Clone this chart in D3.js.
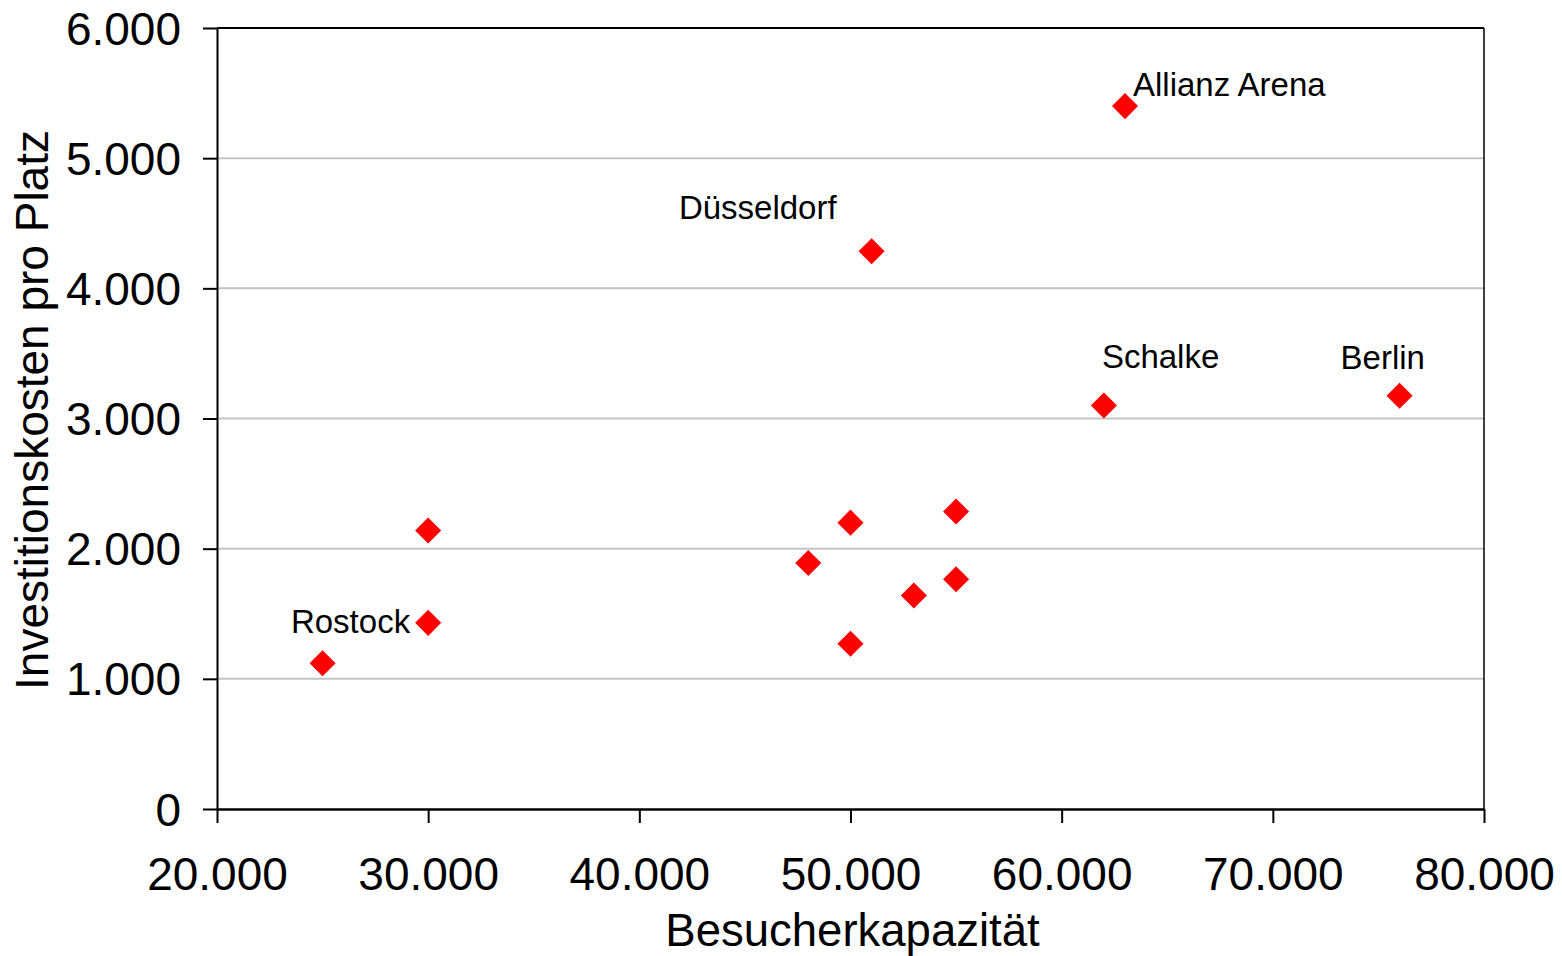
<!DOCTYPE html>
<html>
<head>
<meta charset="utf-8">
<script src="https://cdn.jsdelivr.net/npm/d3@7"></script>
<style>
  body { margin: 0; background: #fff; }
  text { font-family: "Liberation Sans", Arial, sans-serif; }
</style>
</head>
<body>
<svg id="chart" width="1562" height="956"></svg>
<script>
// stadium data: capacity vs. investment per seat
const capacity = [25000, 30000, 30000, 48000, 50000, 50000, 51000, 53000, 55000, 55000, 62000, 63000, 76000];
const costPerSeat = [1120, 2140, 1430, 1890, 2200, 1270, 4285, 1640, 2285, 1765, 3100, 5400, 3175];
const names = ["", "", "Rostock", "", "", "", "Düsseldorf", "", "", "", "Schalke", "Allianz Arena", "Berlin"];
const xTicks = [20000, 30000, 40000, 50000, 60000, 70000, 80000];
const yTicks = [0, 1000, 2000, 3000, 4000, 5000, 6000];

const svg = d3.select("#chart");
const plotLeft = 217, plotRight = 1484, plotTop = 28, plotBottom = 809;

const x = d3.scaleLinear().domain([20000, 80000]).range([plotLeft, plotRight]);
const y = d3.scaleLinear().domain([0, 6000]).range([plotBottom, plotTop]);
const fmt = d => d3.format(",")(d).replace(/,/g, ".");

// gridlines
svg.append("g")
    .selectAll("line")
    .data(yTicks.filter(d => d > 0 && d < 6000))
    .join("line")
    .attr("x1", plotLeft).attr("x2", plotRight)
    .attr("y1", d => y(d)).attr("y2", d => y(d))
    .style("stroke", "#c4c4c4").style("stroke-width", 2);

// frame top & right
svg.append("line").attr("x1", plotLeft).attr("x2", plotRight).attr("y1", plotTop).attr("y2", plotTop)
    .style("stroke", "#000").style("stroke-width", 2);
svg.append("line").attr("x1", plotRight).attr("x2", plotRight).attr("y1", plotTop).attr("y2", plotBottom)
    .style("stroke", "#000").style("stroke-width", 1.5);

// y axis
const yAxis = svg.append("g")
    .attr("transform", "translate(" + plotLeft + ",0)")
    .call(d3.axisLeft(y).tickValues(yTicks).tickFormat(fmt).tickSize(14).tickSizeOuter(0).tickPadding(22));
yAxis.select(".domain").style("stroke-width", 2);
yAxis.selectAll(".tick line").style("stroke-width", 2);
yAxis.selectAll(".tick text").style("font-size", "46px").attr("font-family", null).attr("dy", "0.35em");

// x axis
const xAxis = svg.append("g")
    .attr("transform", "translate(0," + plotBottom + ")")
    .call(d3.axisBottom(x).tickValues(xTicks).tickFormat(fmt).tickSize(14).tickSizeOuter(0));
xAxis.select(".domain").style("stroke-width", 2.5);
xAxis.selectAll(".tick line").style("stroke-width", 2);
xAxis.selectAll(".tick text").style("font-size", "46px").attr("font-family", null)
    .attr("dy", null).attr("y", 81);

// points
const pts = capacity.map((c, i) => ({ c: c, v: costPerSeat[i], name: names[i] }));
svg.append("g")
    .selectAll("path")
    .data(pts)
    .join("path")
    .attr("d", d3.symbol(d3.symbolSquare, 340))
    .attr("transform", d => "translate(" + x(d.c) + "," + y(d.v) + ") rotate(45)")
    .style("fill", "#ff0000");

// point labels
const labelPos = {
    "Rostock": [-18, 10, "end"],
    "Düsseldorf": [-35, -32, "end"],
    "Schalke": [-2, -37, "start"],
    "Allianz Arena": [8, -10, "start"],
    "Berlin": [-59, -27, "start"]
};
svg.append("g")
    .selectAll("text")
    .data(pts.filter(d => d.name))
    .join("text")
    .attr("x", d => x(d.c) + labelPos[d.name][0])
    .attr("y", d => y(d.v) + labelPos[d.name][1])
    .attr("text-anchor", d => labelPos[d.name][2])
    .style("font-size", "33px")
    .text(d => d.name);

// axis titles
svg.append("text").text("Besucherkapazität")
    .attr("x", (plotLeft + plotRight) / 2 + 2).attr("y", 946)
    .attr("text-anchor", "middle").style("font-size", "45.5px");
svg.append("text").text("Investitionskosten pro Platz")
    .attr("transform", "translate(48,410) rotate(-90)")
    .attr("text-anchor", "middle").style("font-size", "46px");
</script>
</body>
</html>
